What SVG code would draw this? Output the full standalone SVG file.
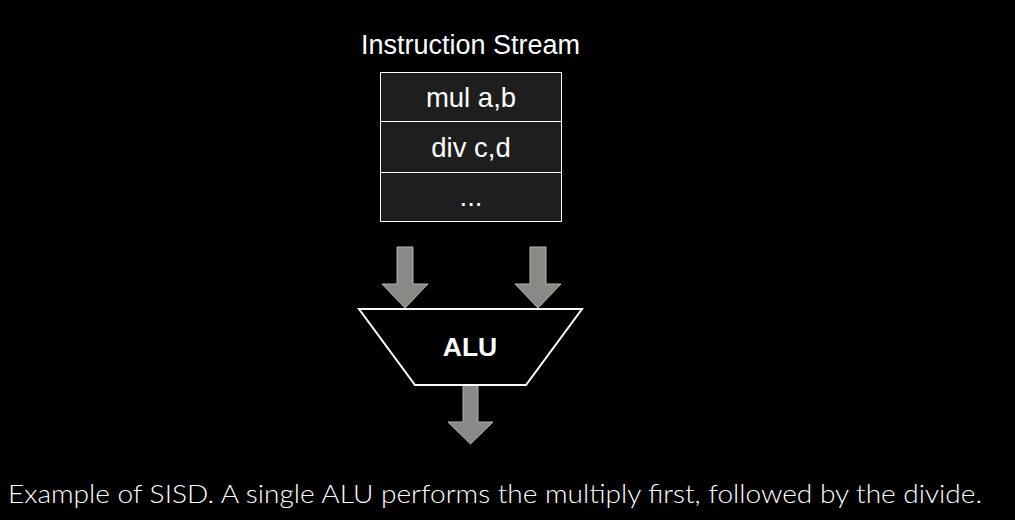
<svg xmlns="http://www.w3.org/2000/svg" width="1015" height="520" viewBox="0 0 1015 520">
<style>
.t{font-family:"Liberation Sans",Arial,sans-serif;fill:#ffffff;text-anchor:middle}
.cell{fill:#1e1e1e;stroke:#ffffff;stroke-width:1}
.arrow{fill:#8b8986;stroke:#b5b3b0;stroke-width:1}
</style>
<rect width="1015" height="520" fill="#000000"/>
<text class="t" x="470.5" y="54" font-size="27">Instruction Stream</text>
<g id="stream">
<rect class="cell" x="380.5" y="72.5" width="181" height="49"/>
<rect class="cell" x="380.5" y="121.5" width="181" height="51"/>
<rect class="cell" x="380.5" y="172.5" width="181" height="49"/>
<text class="t" x="471" y="107" font-size="27.5">mul a,b</text>
<text class="t" x="471" y="157" font-size="27.5">div c,d</text>
<text class="t" x="471" y="206" font-size="27.5">...</text>
</g>
<g id="connectors">
<polygon class="arrow" points="397,247 413,247 413,284 428,284 405,308 382,284 397,284"/>
<polygon class="arrow" points="530,247 546,247 546,284 561,284 538,308 515,284 530,284"/>
<polygon class="arrow" points="463,385 478,385 478,422 493,422 470.5,444 448,422 463,422"/>
</g>
<g id="alu">
<polygon points="359,309 582,309 526,385 415,385" fill="#000000" stroke="#ffffff" stroke-width="2"/>
<text class="t" x="470" y="356" font-size="26.5" font-weight="bold">ALU</text>
</g>
<text x="8" y="503" font-family="Lato,'Open Sans',sans-serif" font-weight="300" font-size="26" fill="#ffffff" textLength="974" lengthAdjust="spacingAndGlyphs">Example of SISD. A single ALU performs the multiply first, followed by the divide.</text>
</svg>
